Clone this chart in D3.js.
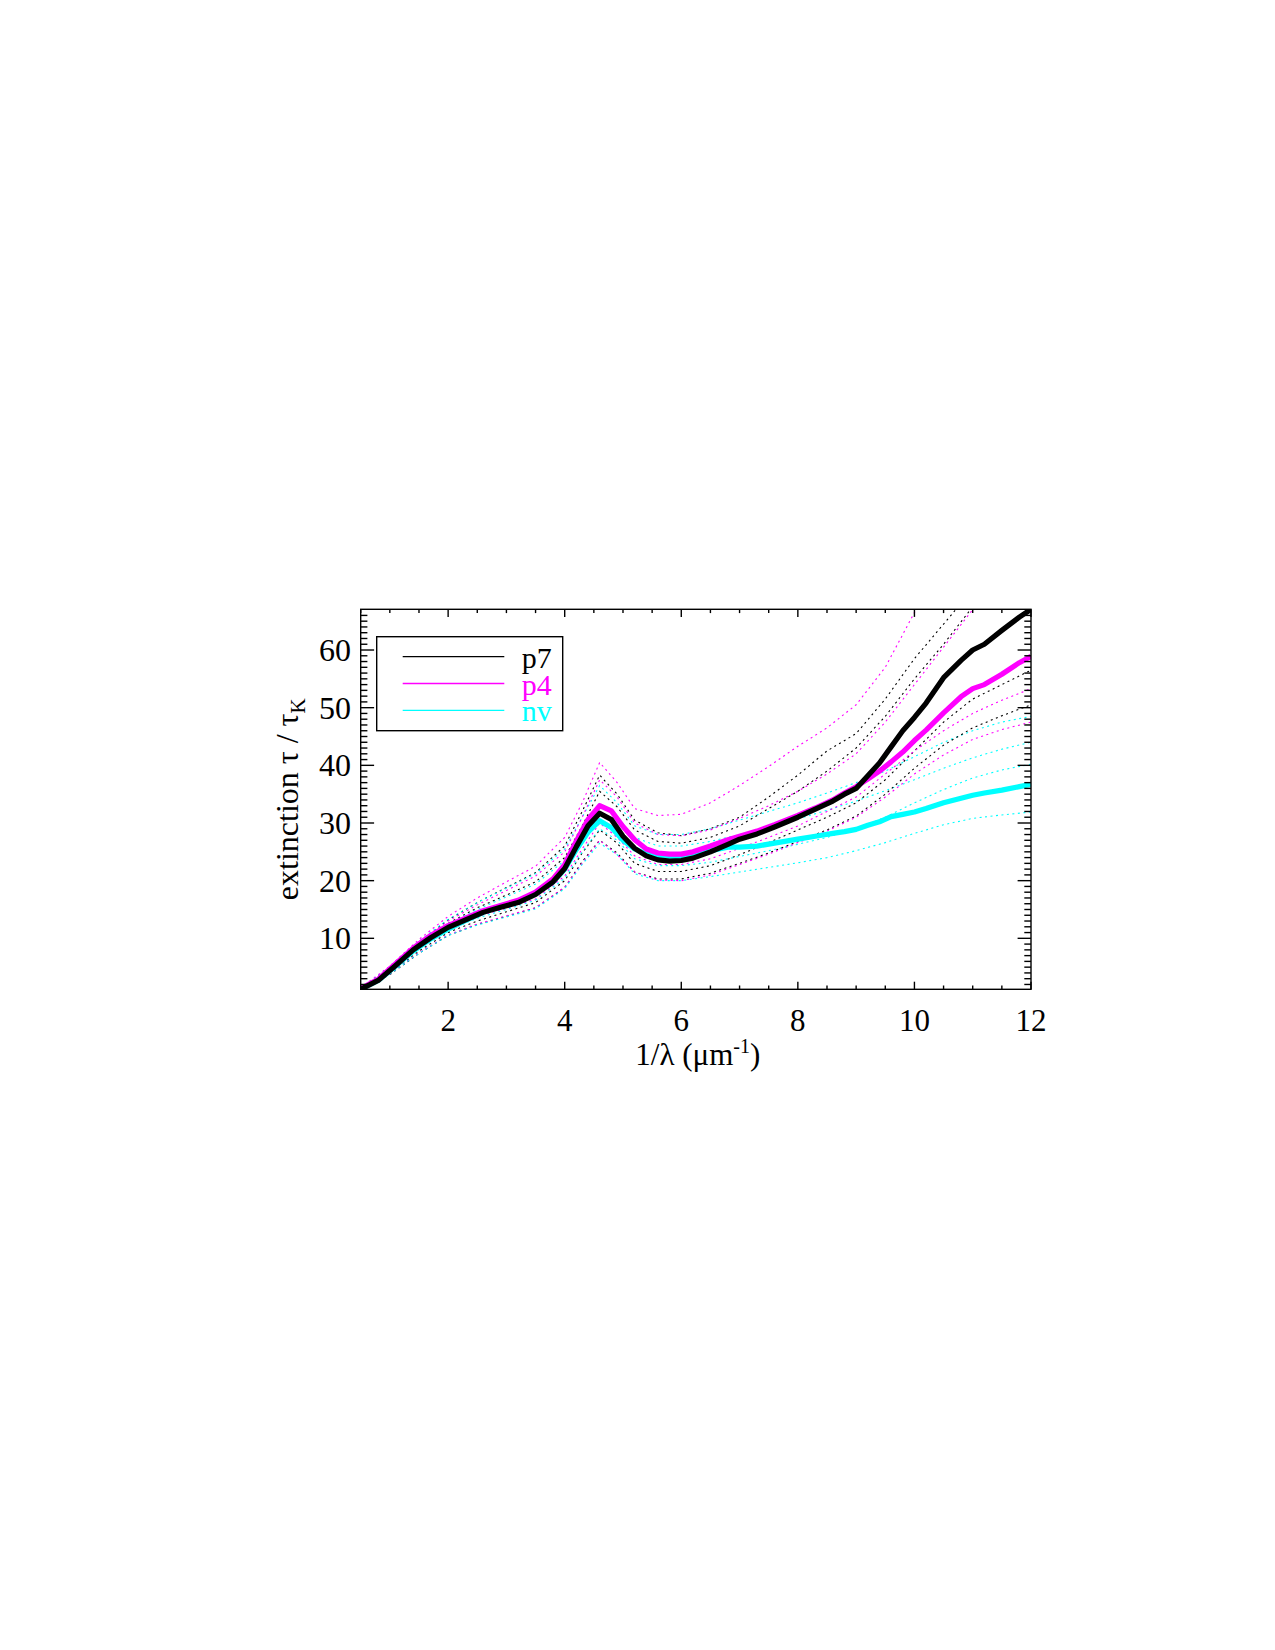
<!DOCTYPE html>
<html><head><meta charset="utf-8">
<script src="https://cdn.jsdelivr.net/npm/d3@7"></script>
<style>body{margin:0;background:#fff}</style>
</head><body><svg id="c" width="1275" height="1650"></svg>
<script>
// ---- data ----
const xThick = [0.5, 0.8, 1.1, 1.4, 1.7, 2.0, 2.3, 2.6, 2.9, 3.2, 3.5, 3.8, 4.0, 4.2, 4.4, 4.6, 4.8, 5.0, 5.2, 5.4, 5.6, 5.8, 6.0, 6.2, 6.5, 6.8, 7.0, 7.3, 7.6, 8.0, 8.3, 8.6, 8.8, 9.0, 9.2, 9.4, 9.6, 9.8, 10.0, 10.2, 10.5, 10.8, 11.0, 11.2, 11.5, 11.8, 12.0];
const p7 = [1.16, 2.7, 5.3, 8.0, 10.1, 11.9, 13.2, 14.5, 15.4, 16.2, 17.6, 19.8, 22.1, 25.9, 29.5, 31.7, 30.6, 27.7, 25.6, 24.3, 23.6, 23.4, 23.5, 23.9, 25.0, 26.3, 27.2, 28.1, 29.3, 31.0, 32.4, 33.8, 35.0, 36.0, 38.2, 40.4, 43.2, 46.0, 48.3, 50.8, 55.2, 58.2, 60.0, 61.0, 63.4, 65.7, 67.06];
const p4 = [1.3, 2.9, 5.6, 8.3, 10.5, 12.2, 13.5, 14.8, 15.7, 16.6, 18.0, 20.3, 22.8, 26.9, 30.6, 33.0, 32.1, 29.4, 27.1, 25.5, 24.8, 24.6, 24.6, 25.0, 26.0, 27.1, 27.7, 28.6, 29.7, 31.3, 32.6, 34.0, 35.2, 36.3, 37.6, 39.0, 40.6, 42.3, 44.3, 46.1, 49.1, 51.9, 53.3, 54.0, 55.8, 57.8, 58.9];
const nv = [1.2, 2.7, 5.2, 7.8, 9.9, 11.6, 13.1, 14.5, 15.6, 16.4, 17.8, 19.8, 22.0, 25.4, 28.4, 30.4, 29.2, 27.0, 25.5, 24.6, 24.2, 24.1, 24.2, 24.5, 25.2, 25.8, 25.8, 26.0, 26.5, 27.2, 27.7, 28.2, 28.5, 28.9, 29.6, 30.2, 31.1, 31.5, 31.9, 32.5, 33.5, 34.3, 34.8, 35.2, 35.7, 36.3, 36.7];

const xDot = [0.5, 1, 1.5, 2, 2.5, 3, 3.5, 4, 4.3, 4.6, 4.9, 5.2, 5.6, 6, 6.5, 7, 7.5, 8, 8.5, 9, 9.5, 10, 10.5, 11, 11.5, 12];
const p7_d1 = [1.3, 4.9, 9.4, 13.2, 16.2, 18.8, 21.4, 26.0, 32.0, 38.3, 35.0, 30.5, 28.3, 27.8, 29.0, 31.0, 34.5, 38.3, 42.5, 45.5, 51.5, 58.5, 64.5, 70.5, 76, 81];
const p7_d2 = [1.2, 4.6, 8.9, 12.6, 15.3, 17.5, 19.8, 24.0, 29.5, 35.5, 32.8, 28.8, 26.8, 26.5, 27.5, 29.5, 32.5, 35.5, 39.0, 43.0, 48.5, 55.0, 61.0, 67.5, 73, 78];
const p7_d3 = [1.1, 3.9, 7.8, 11.0, 13.0, 14.6, 16.2, 20.0, 24.8, 28.8, 26.5, 23.0, 21.6, 21.6, 22.6, 24.5, 26.6, 28.8, 31.0, 33.5, 37.5, 42.5, 47.5, 51.5, 54.0, 56.5];
const p7_d4 = [1.0, 3.7, 7.4, 10.5, 12.4, 13.8, 15.3, 18.8, 23.3, 27.0, 24.8, 21.5, 20.3, 20.3, 21.3, 23.0, 24.8, 26.8, 28.8, 31.2, 35.0, 39.5, 43.5, 46.5, 48.6, 50.5];
const p4_d1 = [1.4, 5.2, 9.8, 13.8, 17.0, 19.8, 22.5, 27.5, 33.5, 40.5, 37.0, 32.5, 31.3, 31.5, 33.5, 36.5, 39.8, 43.3, 46.5, 50.5, 57.0, 66.5, 76, 85, 94, 100];
const p4_d2 = [1.3, 4.9, 9.3, 13.0, 15.8, 18.3, 20.8, 25.0, 31.0, 37.5, 34.5, 30.0, 28.0, 27.8, 28.8, 30.8, 33.0, 35.5, 38.5, 42.0, 47.5, 54.0, 60.5, 67.0, 73, 79];
const p4_d3 = [1.2, 4.3, 8.4, 11.8, 13.8, 15.2, 16.8, 20.8, 25.5, 30.0, 27.5, 24.3, 22.8, 22.8, 23.8, 25.6, 27.5, 29.5, 32.0, 34.5, 38.5, 42.5, 46.0, 49.0, 51.3, 53.3];
const p4_d4 = [1.0, 3.8, 7.5, 10.6, 12.5, 13.9, 15.3, 18.9, 23.0, 27.0, 24.5, 21.5, 20.1, 20.0, 21.0, 22.8, 24.6, 26.6, 28.6, 31.0, 34.5, 38.5, 41.8, 44.5, 46.2, 47.5];
const nv_d1 = [1.3, 5.0, 9.5, 13.3, 16.2, 18.7, 21.2, 25.5, 31.0, 36.5, 33.5, 29.5, 28.0, 28.0, 29.0, 30.5, 32.0, 33.5, 35.2, 37.0, 39.0, 41.5, 44.0, 46.0, 47.5, 48.5];
const nv_d2 = [1.2, 4.7, 8.9, 12.5, 15.0, 17.2, 19.4, 23.5, 28.5, 33.5, 31.0, 27.5, 26.0, 26.0, 26.8, 28.0, 29.3, 30.7, 32.2, 33.8, 35.6, 37.5, 39.5, 41.3, 42.8, 44.0];
const nv_d3 = [1.1, 4.2, 8.1, 11.4, 13.5, 15.0, 16.6, 20.4, 25.0, 29.0, 27.0, 23.8, 22.6, 22.6, 23.2, 24.2, 25.2, 26.3, 27.5, 29.0, 31.0, 33.5, 35.8, 37.8, 39.2, 40.2];
const nv_d4 = [1.0, 3.8, 7.4, 10.5, 12.3, 13.7, 15.1, 18.6, 22.8, 26.5, 24.5, 21.2, 20.0, 20.0, 20.7, 21.5, 22.3, 23.1, 24.0, 25.2, 26.6, 28.2, 29.7, 30.8, 31.4, 31.9];

const seriesNames = ["p7", "p4", "nv"];
const seriesColors = ["#000000", "#ff00ff", "#00ffff"];
const xTickValues = [2, 4, 6, 8, 10, 12];
const yTickValues = [10, 20, 30, 40, 50, 60];
const xDomain = [0.5, 12];
const yDomain = [1.16, 67.06];

// ---- layout ----
const L = 360.7, R = 1031, T = 609.3, B = 989.3;
const FONT = "'Liberation Serif','Times New Roman',serif";
const svg = d3.select("#c");
const x = d3.scaleLinear().domain(xDomain).range([L, R]);
const y = d3.scaleLinear().domain(yDomain).range([B, T]);

svg.append("defs").append("clipPath").attr("id", "clip")
  .append("rect").attr("x", L).attr("y", T).attr("width", R - L).attr("height", B - T);

const line = (xs) => d3.line().x((d, i) => x(xs[i])).y(d => y(d));
const g = svg.append("g").attr("clip-path", "url(#clip)");

const dotted = [
  [p7_d1, 0], [p4_d1, 1], [nv_d1, 2],
  [p7_d2, 0], [p4_d2, 1], [nv_d2, 2],
  [p7_d3, 0], [p4_d3, 1], [nv_d3, 2],
  [p7_d4, 0], [p4_d4, 1], [nv_d4, 2]
];
dotted.forEach(([arr, c]) => {
  g.append("path").attr("d", line(xDot)(arr)).attr("fill", "none")
    .attr("stroke", seriesColors[c]).attr("stroke-width", 1.1)
    .attr("stroke-dasharray", "2,3.5");
});
[[nv, 2], [p4, 1], [p7, 0]].forEach(([arr, c]) => {
  g.append("path").attr("d", line(xThick)(arr)).attr("fill", "none")
    .attr("stroke", seriesColors[c]).attr("stroke-width", 5.2)
    .attr("stroke-linejoin", "round");
});

// ---- axes ----
const ax = svg.append("g").attr("stroke", "#000").attr("stroke-width", 1.4);
ax.append("rect").attr("x", L).attr("y", T).attr("width", R - L).attr("height", B - T).attr("fill", "none");
const xMinor = d3.range(0.5, 12.01, 0.5);
const yMinor = d3.range(2, 67, 1);
xMinor.forEach(v => {
  const len = xTickValues.includes(v) ? 7.6 : 3.8;
  ax.append("line").attr("x1", x(v)).attr("x2", x(v)).attr("y1", B).attr("y2", B - len);
  ax.append("line").attr("x1", x(v)).attr("x2", x(v)).attr("y1", T).attr("y2", T + len);
});
yMinor.forEach(v => {
  const len = yTickValues.includes(v) ? 13.4 : 6.7;
  ax.append("line").attr("y1", y(v)).attr("y2", y(v)).attr("x1", L).attr("x2", L + len);
  ax.append("line").attr("y1", y(v)).attr("y2", y(v)).attr("x1", R).attr("x2", R - len);
});

const txt = svg.append("g").attr("font-family", FONT).attr("fill", "#000");
xTickValues.forEach(v => {
  txt.append("text").attr("x", x(v)).attr("y", 1031).attr("text-anchor", "middle")
    .attr("font-size", 31).text(v);
});
yTickValues.forEach(v => {
  txt.append("text").attr("x", 351).attr("y", y(v) + 11).attr("text-anchor", "end")
    .attr("font-size", 32).text(v);
});
const xl = txt.append("text").attr("x", (L + R) / 2 + 2).attr("y", 1065).attr("text-anchor", "middle").attr("font-size", 31);
xl.append("tspan").text("1/λ (μm");
xl.append("tspan").attr("font-size", 20).attr("dy", -12).text("-1");
xl.append("tspan").attr("dy", 12).text(")");

const yl = txt.append("text").attr("transform", `translate(298,${(T + B) / 2}) rotate(-90)`)
  .attr("text-anchor", "middle").attr("font-size", 32);
yl.append("tspan").text("extinction τ / τ");
yl.append("tspan").attr("font-size", 21).attr("dy", 7).text("K");

// ---- legend ----
const lg = svg.append("g");
lg.append("rect").attr("x", 376.7).attr("y", 636.7).attr("width", 186).attr("height", 94)
  .attr("fill", "#fff").attr("stroke", "#000").attr("stroke-width", 1.4);
seriesNames.forEach((n, i) => {
  const yy = 656.7 + i * 26.8;
  lg.append("line").attr("x1", 402.7).attr("x2", 504.3).attr("y1", yy).attr("y2", yy)
    .attr("stroke", seriesColors[i]).attr("stroke-width", 1.3);
  lg.append("text").attr("x", 521.7).attr("y", yy + 11).attr("font-family", FONT)
    .attr("font-size", 30).attr("fill", seriesColors[i]).text(n);
});
</script></body></html>
